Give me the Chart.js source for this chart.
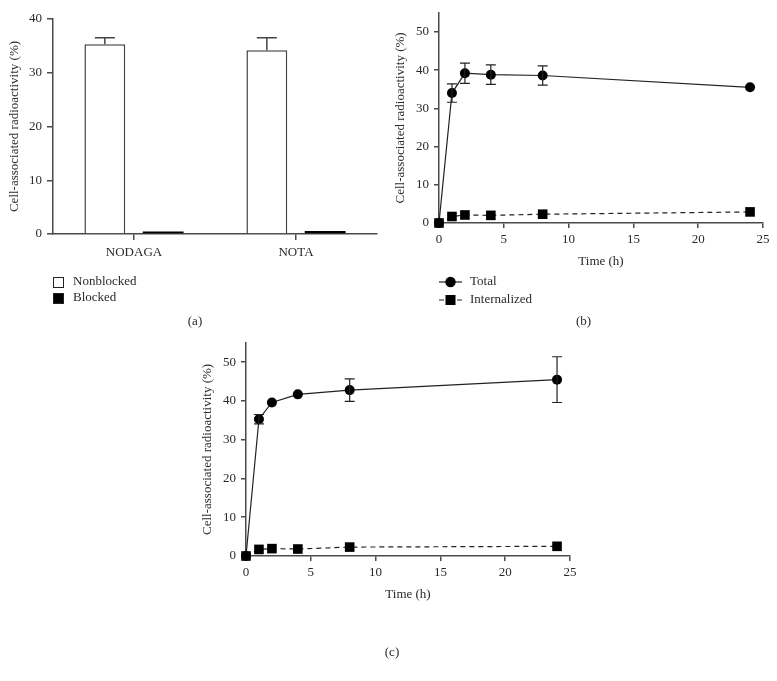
<!DOCTYPE html>
<html>
<head>
<meta charset="utf-8">
<script src="https://cdn.jsdelivr.net/npm/chart.js"></script>
<style>
  body { margin: 0; background: #fff; }
  canvas { position: absolute; }
</style>
</head>
<body>
<canvas id="chartA" width="390" height="340" style="left:0;top:0"></canvas>
<canvas id="chartB" width="387" height="340" style="left:390px;top:0"></canvas>
<canvas id="chartC" width="424" height="351" style="left:180px;top:330px"></canvas>
<script>
//data section

// panel (a) bars
const barCategories = ['NODAGA', 'NOTA'];
const nonblockedValues = [35.3, 34.2];
const nonblockedErrors = [1.2, 2.3];
const blockedValues = [0.45, 0.55];
const barYTicks = [0, 10, 20, 30, 40];

// panels (b) and (c) time course
const timeHours = [0, 1, 2, 4, 8, 24];
const totalB = [0, 34.0, 39.2, 38.8, 38.6, 35.5];
const totalErrB = [0, 2.4, 2.65, 2.55, 2.5, 0];
const internB = [0, 1.7, 2.1, 2.0, 2.3, 2.9];
const totalC = [0, 35.3, 39.6, 41.7, 42.8, 45.5];
const totalErrC = [0, 1.2, 0, 0, 2.9, 5.9];
const internC = [0, 1.7, 1.9, 1.8, 2.3, 2.5];
const lineYTicks = [0, 10, 20, 30, 40, 50];
const timeTicks = [0, 5, 10, 15, 20, 25];

const yTitle = 'Cell-associated radioactivity (%)';
const axisColor = '#4a4a4a';
const textColor = '#2a2a2a';

Chart.defaults.font.family = '"Liberation Serif", "Times New Roman", serif';
Chart.defaults.font.size = 13;
Chart.defaults.color = textColor;

//error bars drawn from dataset.errorValues
const errorBars = {
    id: 'errorBars',
    afterDatasetsDraw(chart, args, opts) {
        const ctx = chart.ctx;
        const yScale = chart.scales.y;
        chart.data.datasets.forEach((ds, i) => {
            if (!ds.errorValues) return;
            const meta = chart.getDatasetMeta(i);
            meta.data.forEach((el, j) => {
                const err = ds.errorValues[j];
                if (!err) return;
                const raw = ds.data[j];
                const v = typeof raw === 'object' ? raw.y : raw;
                const x = el.x;
                const cap = opts.capWidth / 2;
                const yTop = yScale.getPixelForValue(v + err);
                const yBot = opts.upOnly ? el.y : yScale.getPixelForValue(v - err);
                ctx.save();
                ctx.strokeStyle = opts.color;
                ctx.lineWidth = opts.lineWidth;
                ctx.beginPath();
                ctx.moveTo(x, yTop);
                ctx.lineTo(x, yBot);
                ctx.moveTo(x - cap, yTop);
                ctx.lineTo(x + cap, yTop);
                if (!opts.upOnly) {
                    ctx.moveTo(x - cap, yBot);
                    ctx.lineTo(x + cap, yBot);
                }
                ctx.stroke();
                ctx.restore();
            });
        });
    }
};

//legend stacked under the plot + panel letter
const stackLegend = {
    id: 'stackLegend',
    afterDraw(chart, args, opts) {
        const ctx = chart.ctx;
        ctx.save();
        ctx.font = '13px "Liberation Serif", serif';
        ctx.textBaseline = 'middle';
        chart.data.datasets.forEach((ds, i) => {
            const y = opts.y + i * opts.gap;
            if (opts.kind === 'box') {
                ctx.fillStyle = ds.backgroundColor;
                ctx.fillRect(opts.x, y - 5, 11, 11);
                ctx.strokeStyle = '#222';
                ctx.lineWidth = 1;
                ctx.strokeRect(opts.x + 0.5, y - 4.5, 10, 10);
            } else {
                ctx.strokeStyle = ds.borderColor;
                ctx.lineWidth = ds.borderWidth;
                ctx.setLineDash(ds.borderDash || []);
                ctx.beginPath();
                ctx.moveTo(opts.x, y);
                ctx.lineTo(opts.x + 23, y);
                ctx.stroke();
                ctx.setLineDash([]);
                ctx.fillStyle = '#000';
                const cx = opts.x + 11.5;
                if (ds.pointStyle === 'rect') {
                    ctx.fillRect(cx - 5, y - 5, 10, 10);
                } else {
                    ctx.beginPath();
                    ctx.arc(cx, y, 5.2, 0, Math.PI * 2);
                    ctx.fill();
                }
            }
            ctx.fillStyle = textColor;
            ctx.textAlign = 'left';
            ctx.fillText(ds.label, opts.textX, y);
        });
        ctx.textAlign = 'center';
        ctx.fillText(opts.panel, chart.width / 2, opts.panelY);
        ctx.restore();
    }
};

const setTicks = (list) => (axis) => {
    axis.ticks = list.map(v => ({ value: v }));
};

const axisStyle = (tl) => ({
    grid: { display: true, drawOnChartArea: false, drawTicks: true, tickLength: tl, color: axisColor, lineWidth: 1.5 },
    border: { display: true, color: axisColor, width: 1.5 }
});

//bar graph (a)
const barGraph = () => {
    var ctx = document.getElementById('chartA').getContext('2d');
    var chart = new Chart(ctx, {
        type: 'bar',
        data: {
            labels: barCategories,
            datasets: [{
                label: 'Nonblocked',
                data: nonblockedValues,
                errorValues: nonblockedErrors,
                backgroundColor: '#fff',
                borderColor: '#444',
                borderWidth: 1.5
            }, {
                label: 'Blocked',
                data: blockedValues,
                backgroundColor: '#000',
                borderColor: '#000',
                borderWidth: 0
            }]
        },
        options: {
            responsive: false,
            animation: false,
            layout: { padding: { left: 0, right: 13, top: 19, bottom: 76 } },
            datasets: { bar: { categoryPercentage: 0.72, barPercentage: 0.7 } },
            scales: {
                x: Object.assign(axisStyle(6), {
                    grid: { display: true, offset: false, drawOnChartArea: false, tickLength: 6, color: axisColor, lineWidth: 1.5 },
                    ticks: { padding: 5 },
                    afterFit: (s) => { s.height = 30; }
                }),
                y: Object.assign(axisStyle(6), {
                    min: 0,
                    max: 40,
                    ticks: { padding: 5 },
                    afterBuildTicks: setTicks(barYTicks),
                    afterFit: (s) => { s.width = 53; },
                    title: { display: true, text: yTitle, padding: { top: 7, bottom: 4 } }
                })
            },
            plugins: {
                legend: { display: false },
                tooltip: { enabled: false },
                errorBars: { capWidth: 20, upOnly: true, color: '#444', lineWidth: 1.5 },
                stackLegend: { kind: 'box', x: 53, y: 282, gap: 16, textX: 73, panel: '(a)', panelY: 322 }
            }
        },
        plugins: [errorBars, stackLegend]
    });
};
barGraph()

//time course graphs (b) and (c)
const timeGraph = (id, total, totalErr, intern, pad, yAxisW, yTitlePad, legend) => {
    var ctx = document.getElementById(id).getContext('2d');
    var chart = new Chart(ctx, {
        type: 'line',
        data: {
            datasets: [{
                label: 'Total',
                data: timeHours.map((t, i) => ({ x: t, y: total[i] })),
                errorValues: totalErr,
                borderColor: '#222',
                borderWidth: 1.2,
                pointStyle: 'circle',
                pointRadius: 5,
                pointBackgroundColor: '#000',
                pointBorderWidth: 0,
                tension: 0,
                clip: false
            }, {
                label: 'Internalized',
                data: timeHours.map((t, i) => ({ x: t, y: intern[i] })),
                borderColor: '#222',
                borderWidth: 1.2,
                borderDash: [5, 4],
                pointStyle: 'rect',
                pointRadius: 6.8,
                pointBackgroundColor: '#000',
                pointBorderWidth: 0,
                tension: 0,
                clip: false
            }]
        },
        options: {
            responsive: false,
            animation: false,
            layout: { padding: pad },
            scales: {
                x: Object.assign(axisStyle(5), {
                    type: 'linear',
                    min: 0,
                    max: 25,
                    ticks: { padding: 4 },
                    afterBuildTicks: setTicks(timeTicks),
                    afterFit: (s) => { s.height = 50; },
                    title: { display: true, text: 'Time (h)', padding: { top: 4, bottom: 4 } }
                }),
                y: Object.assign(axisStyle(5), {
                    min: 0,
                    max: 55,
                    ticks: { padding: 5 },
                    afterBuildTicks: setTicks(lineYTicks),
                    afterFit: (s) => { s.width = yAxisW; },
                    title: { display: true, text: yTitle, padding: { top: yTitlePad, bottom: 4 } }
                })
            },
            plugins: {
                legend: { display: false },
                tooltip: { enabled: false },
                errorBars: { capWidth: 10, upOnly: false, color: '#222', lineWidth: 1.2 },
                stackLegend: legend
            }
        },
        plugins: [errorBars, stackLegend]
    });
};

timeGraph('chartB', totalB, totalErrB, internB,
    { left: 0, right: 14, top: 8, bottom: 67 }, 49, 3,
    { kind: 'line', x: 49, y: 282, gap: 18, textX: 80, panel: '(b)', panelY: 322 })

timeGraph('chartC', totalC, totalErrC, internC,
    { left: 0, right: 34, top: 11, bottom: 75 }, 66, 20,
    { kind: 'line', x: 66, y: 615, gap: 16, textX: 97, panel: '(c)', panelY: 323 })
</script>
</body>
</html>
